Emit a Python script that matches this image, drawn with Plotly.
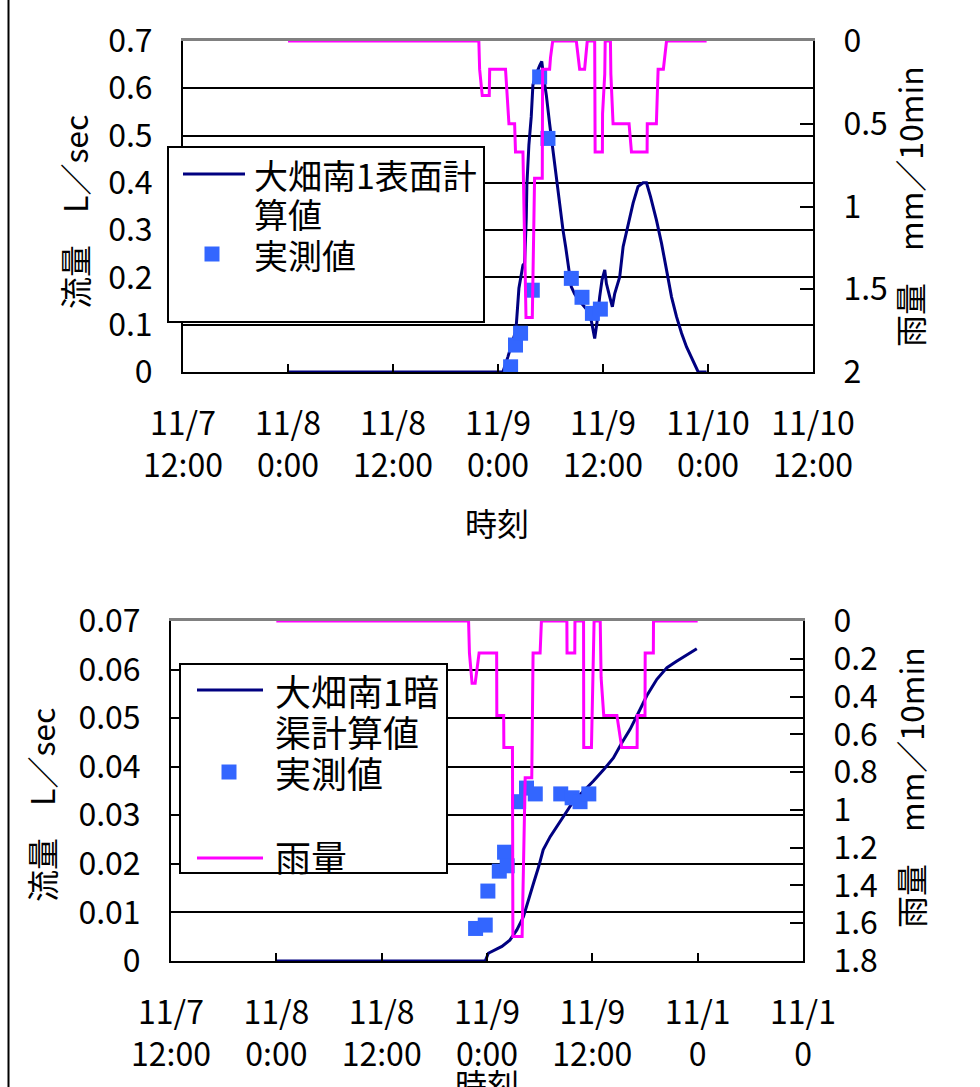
import plotly.graph_objects as go

W, H = 980, 1087
FONT = "Noto Sans CJK JP"

# ---------------- data (hours since 11/7 12:00) ----------------
tick_hours = [0, 12, 24, 36, 48, 60, 72]
top_xlabels = ["11/7<br>12:00", "11/8<br>0:00", "11/8<br>12:00", "11/9<br>0:00",
               "11/9<br>12:00", "11/10<br>0:00", "11/10<br>12:00"]
bot_xlabels = ["11/7<br>12:00", "11/8<br>0:00", "11/8<br>12:00", "11/9<br>0:00",
               "11/9<br>12:00", "11/1<br>0", "11/1<br>0"]

top_flow_ticks = [0, 0.1, 0.2, 0.3, 0.4, 0.5, 0.6, 0.7]
top_flow_labels = ["0", "0.1", "0.2", "0.3", "0.4", "0.5", "0.6", "0.7"]
top_rain_ticks = [0, 0.5, 1, 1.5, 2]
top_rain_labels = ["0", "0.5", "1", "1.5", "2"]

bot_flow_ticks = [0, 0.01, 0.02, 0.03, 0.04, 0.05, 0.06, 0.07]
bot_flow_labels = ["0", "0.01", "0.02", "0.03", "0.04", "0.05", "0.06", "0.07"]
bot_rain_ticks = [0, 0.2, 0.4, 0.6, 0.8, 1.0, 1.2, 1.4, 1.6, 1.8]
bot_rain_labels = ["0", "0.2", "0.4", "0.6", "0.8", "1", "1.2", "1.4", "1.6", "1.8"]

# top chart: 大畑南1表面計算値
top_calc_t = [12, 36.56, 37.13, 38.0, 38.09, 38.39, 38.85, 39.04, 39.23, 39.3, 39.53, 39.8,
              39.99, 40.37, 40.76, 41.0, 41.21, 41.52, 41.9, 42.28, 42.74, 43.05, 43.43,
              43.73, 44.0, 44.38, 44.76, 45.33, 46.1, 46.67, 47.05, 47.3, 47.62, 47.89,
              48.2, 48.39, 48.77, 49.07, 49.34, 49.91, 50.3, 50.86, 51.44, 52.0, 52.58,
              52.97, 53.43, 54.11, 54.69, 55.26, 55.83, 56.4, 56.98, 57.55, 58.3, 58.88, 59.84]
top_calc_v = [0, 0, 0.032, 0.085, 0.099, 0.177, 0.226, 0.23, 0.325, 0.395, 0.48, 0.54,
              0.607, 0.63, 0.648, 0.657, 0.625, 0.586, 0.525, 0.466, 0.406, 0.35, 0.30,
              0.265, 0.226, 0.18, 0.165, 0.15, 0.133, 0.108, 0.071, 0.103, 0.159, 0.195,
              0.216, 0.187, 0.159, 0.138, 0.166, 0.201, 0.265, 0.307, 0.357, 0.392, 0.40,
              0.40, 0.371, 0.321, 0.272, 0.216, 0.159, 0.117, 0.082, 0.053, 0.025, 0, 0]
# top chart: 実測値
top_obs_t = [37.44, 38.0, 38.58, 39.92, 40.76, 41.71, 44.38, 45.6, 46.79, 47.7]
top_obs_v = [0.011, 0.057, 0.082, 0.173, 0.624, 0.494, 0.198, 0.158, 0.124, 0.133]
# top chart: 雨量 (mm/10min)
top_rain_t = [12, 33.81, 33.9, 34.2, 35.0, 35.05, 36.86, 37.05, 37.25, 37.9, 38.0, 38.85,
              39.2, 39.92, 40.18, 41.06, 41.1, 41.9, 42.0, 42.25, 44.95, 45.33, 45.9, 46.2,
              47.05, 47.1, 47.93, 47.95, 48.2, 48.25, 48.85, 48.9, 49.15, 50.98, 51.25,
              53.04, 53.06, 54.1, 54.2, 54.3, 54.9, 55.26, 59.84]
top_rain_v = [0, 0, 0.17, 0.33, 0.33, 0.17, 0.17, 0.33, 0.5, 0.5, 0.67, 0.67,
              1.67, 1.67, 0.83, 0.83, 0.17, 0.17, 0.1, 0, 0, 0.17, 0.17, 0,
              0, 0.67, 0.67, 0.44, 0.2, 0, 0, 0.2, 0.5, 0.5, 0.67,
              0.67, 0.5, 0.5, 0.33, 0.17, 0.17, 0, 0]

# bottom chart: 大畑南1暗渠計算値
bot_calc_t = [12, 35.8, 36.15, 37.7, 38.6, 39.4, 40.15, 40.7, 41.3, 41.9, 42.4, 43.2, 43.95,
              44.9, 45.85, 47.0, 48.1, 49.3, 50.4, 51.35, 52.3, 53.25, 54.2, 55.35, 56.5,
              57.6, 58.8, 59.9]
bot_calc_v = [0, 0, 0.0016, 0.003, 0.0043, 0.0064, 0.0091, 0.0126, 0.016, 0.0195, 0.0229,
              0.0256, 0.0277, 0.0305, 0.0329, 0.035, 0.037, 0.0394, 0.0418, 0.0449, 0.0477,
              0.0511, 0.0546, 0.058, 0.0604, 0.0617, 0.0631, 0.0643]
# bottom chart: 実測値
bot_obs_t = [34.7, 35.8, 36.1, 37.4, 38.0, 38.3, 39.6, 40.5, 41.5, 44.4, 45.7, 46.6, 47.6]
bot_obs_v = [0.0067, 0.0074, 0.0144, 0.0185, 0.0224, 0.0196, 0.0328, 0.0356, 0.0344,
             0.0344, 0.0336, 0.0328, 0.0344]
# bottom chart: 雨量
bot_rain_t = [12, 33.9, 34.0, 34.3, 34.65, 35.1, 37.1, 37.12, 37.9, 37.92, 38.9, 38.95,
              40.0, 40.35, 41.1, 41.25, 42.05, 42.2, 45.1, 45.12, 46.0, 46.02, 47.0, 47.02,
              47.9, 48.2, 48.9, 49.0, 49.3, 50.8, 51.35, 53.1, 53.12, 54.0, 54.02, 54.95,
              54.97, 60.0]
bot_rain_v = [0, 0, 0.17, 0.33, 0.33, 0.17, 0.17, 0.5, 0.5, 0.67, 0.67, 1.67,
              1.67, 0.83, 0.83, 0.17, 0.17, 0, 0, 0.17, 0.17, 0, 0, 0.67,
              0.67, 0, 0, 0.3, 0.5, 0.5, 0.67, 0.67, 0.5, 0.5, 0.17, 0.17,
              0, 0]

NAVY = "#000080"
MAGENTA = "#FF00FF"
BLUE = "#3366FF"


def px(x):
    return x / W


def py(y):
    return 1 - y / H


fig = go.Figure()
# top
fig.add_trace(go.Scatter(x=top_calc_t, y=top_calc_v, mode="lines", name="大畑南1表面計算値",
                         line=dict(color=NAVY, width=3), xaxis="x", yaxis="y"))
fig.add_trace(go.Scatter(x=top_obs_t, y=top_obs_v, mode="markers", name="実測値",
                         marker=dict(symbol="square", size=15, color=BLUE), xaxis="x", yaxis="y"))
fig.add_trace(go.Scatter(x=top_rain_t, y=top_rain_v, mode="lines", name="雨量",
                         line=dict(color=MAGENTA, width=3), xaxis="x3", yaxis="y3"))
# bottom
fig.add_trace(go.Scatter(x=bot_calc_t, y=bot_calc_v, mode="lines", name="大畑南1暗渠計算値",
                         line=dict(color=NAVY, width=3), xaxis="x2", yaxis="y2"))
fig.add_trace(go.Scatter(x=bot_obs_t, y=bot_obs_v, mode="markers", name="実測値",
                         marker=dict(symbol="square", size=15, color=BLUE), xaxis="x2", yaxis="y2"))
fig.add_trace(go.Scatter(x=bot_rain_t, y=bot_rain_v, mode="lines", name="雨量",
                         line=dict(color=MAGENTA, width=3), xaxis="x4", yaxis="y4"))

tickfont = dict(family=FONT, size=32, color="black")
common_x = dict(range=[0, 72], tickvals=tick_hours, ticks="inside", ticklen=8, tickwidth=2,
                tickcolor="black", showline=True, linewidth=2, linecolor="black",
                showgrid=False, zeroline=False, tickfont=tickfont, ticklabelstandoff=23,
                automargin=False)
# grey top edge of the plot area (drawn under the traces, over the grid)
top_edge = dict(range=[0, 72], side="top", showline=True, linewidth=3, linecolor="#808080",
                ticks="", showticklabels=False, showgrid=False, zeroline=False,
                layer="below traces", automargin=False)
common_y = dict(ticks="inside", ticklen=7, tickwidth=2, tickcolor="black", showline=True,
                linewidth=2, linecolor="black", showgrid=True, gridcolor="black", gridwidth=2,
                zeroline=False, tickfont=tickfont, ticklabelstandoff=22, automargin=False)
common_r = dict(side="right", ticks="inside", ticklen=13, tickwidth=2, tickcolor="black",
                showline=True, linewidth=2, linecolor="black", showgrid=False, zeroline=False,
                tickfont=tickfont, ticklabelstandoff=22, automargin=False)

fig.update_layout(
    width=W, height=H, autosize=False,
    margin=dict(l=0, r=0, t=0, b=0, pad=0, autoexpand=False),
    paper_bgcolor="white", plot_bgcolor="white", showlegend=False,
    font=dict(family=FONT, color="black"),
    xaxis=dict(domain=[px(183), px(813)], anchor="y", ticktext=top_xlabels, **common_x),
    yaxis=dict(domain=[py(372), py(41)], anchor="x", range=[0, 0.7],
               tickvals=top_flow_ticks, ticktext=top_flow_labels, **common_y),
    xaxis3=dict(overlaying="x", anchor="y3", **top_edge),
    yaxis3=dict(overlaying="y", anchor="x3", range=[2, 0], tickvals=top_rain_ticks,
                ticktext=top_rain_labels, **common_r),
    xaxis2=dict(domain=[px(171), px(803)], anchor="y2", ticktext=bot_xlabels, **common_x),
    yaxis2=dict(domain=[py(961), py(621)], anchor="x2", range=[0, 0.07],
                tickvals=bot_flow_ticks, ticktext=bot_flow_labels, **common_y),
    xaxis4=dict(overlaying="x2", anchor="y4", **top_edge),
    yaxis4=dict(overlaying="y2", anchor="x4", range=[1.8, 0], tickvals=bot_rain_ticks,
                ticktext=bot_rain_labels, **common_r),
)

shapes = []
# page frame line
shapes.append(dict(type="line", xref="paper", yref="paper", x0=px(8.5), x1=px(8.5),
                   y0=0, y1=1, line=dict(color="black", width=2)))


def legend_box(x0, y0, x1, y1):
    shapes.append(dict(type="rect", xref="paper", yref="paper", x0=px(x0), x1=px(x1),
                       y0=py(y1), y1=py(y0), line=dict(color="black", width=2),
                       fillcolor="white"))


def legend_line(x0, x1, y, color):
    shapes.append(dict(type="line", xref="paper", yref="paper", x0=px(x0), x1=px(x1),
                       y0=py(y), y1=py(y), line=dict(color=color, width=3)))


def legend_marker(cx, cy, s=15):
    shapes.append(dict(type="rect", xref="paper", yref="paper", x0=px(cx - s / 2),
                       x1=px(cx + s / 2), y0=py(cy + s / 2), y1=py(cy - s / 2),
                       line=dict(width=0), fillcolor=BLUE))


annotations = []


def text(x, y, s, size=32, angle=0, xanchor="center"):
    annotations.append(dict(xref="paper", yref="paper", x=px(x), y=py(y), text=s,
                            showarrow=False, textangle=angle, xanchor=xanchor,
                            yanchor="middle", font=dict(family=FONT, size=size, color="black")))


# top legend
legend_box(168, 147, 484, 322)
legend_line(183, 245, 174, NAVY)
text(252, 174, "大畑南1表面計", 34, xanchor="left")
text(252, 213, "算値", 34, xanchor="left")
legend_marker(212, 254)
text(252, 254, "実測値", 34, xanchor="left")

# bottom legend
legend_box(180, 664, 447, 873)
legend_line(197, 263, 690, NAVY)
text(273, 690, "大畑南1暗", 36, xanchor="left")
text(273, 731, "渠計算値", 36, xanchor="left")
legend_marker(229, 772)
text(273, 772, "実測値", 36, xanchor="left")
legend_line(197, 263, 858, MAGENTA)
text(273, 856, "雨量", 36, xanchor="left")

# axis titles
text(74, 212, "流量　L／sec", 32, angle=-90)
text(909, 207, "雨量　mm／10min", 32, angle=-90)
text(497, 522, "時刻", 32)
text(41, 805, "流量　L／sec", 32, angle=-90)
text(910, 788, "雨量　mm／10min", 32, angle=-90)
text(487, 1083, "時刻", 32)

fig.update_layout(shapes=shapes, annotations=annotations)
fig.write_html("out.html", config={"staticPlot": True},
               post_script="document.body.style.margin='0px';document.body.style.padding='0px';"
                           "document.documentElement.style.overflow='hidden';")
